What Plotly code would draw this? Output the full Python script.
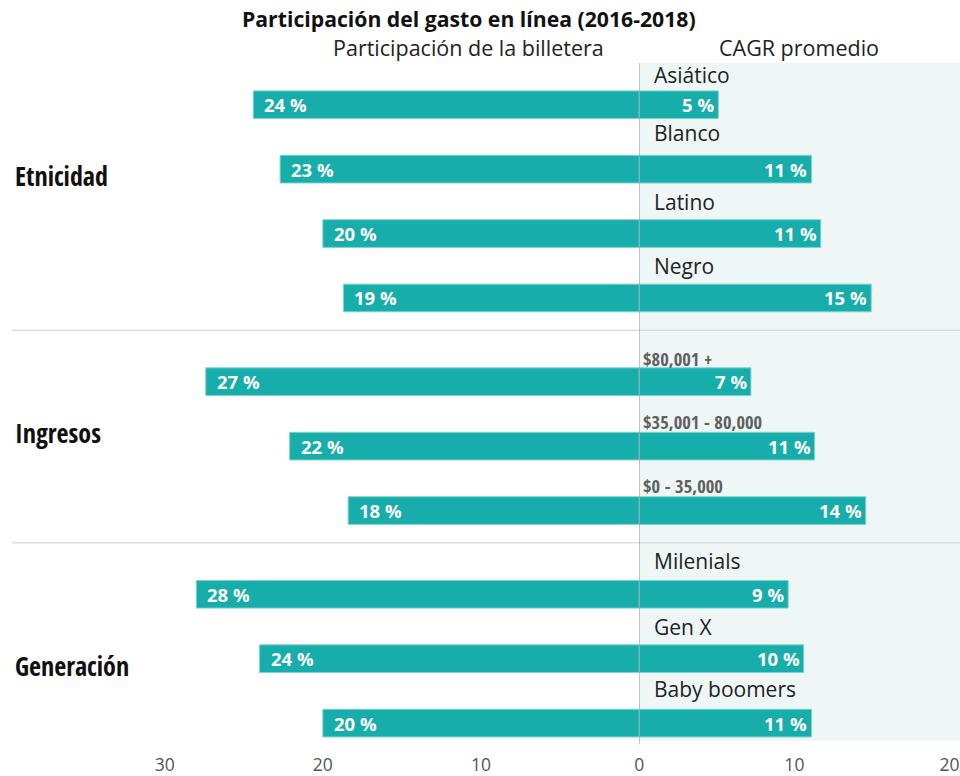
import plotly.graph_objects as go

# ---- data ----
groups = ["Etnicidad", "Ingresos", "Generación"]
categories = [
    ["Asiático", "Blanco", "Latino", "Negro"],
    ["$80,001 +", "$35,001 - 80,000", "$0 - 35,000"],
    ["Milenials", "Gen X", "Baby boomers"],
]
wallet_share = [
    [24.4, 22.7, 20.0, 18.7],
    [27.4, 22.1, 18.4],
    [28.0, 24.0, 20.0],
]
wallet_labels = [
    ["24 %", "23 %", "20 %", "19 %"],
    ["27 %", "22 %", "18 %"],
    ["28 %", "24 %", "20 %"],
]
cagr = [
    [5.1, 11.1, 11.7, 14.95],
    [7.2, 11.3, 14.6],
    [9.6, 10.6, 11.1],
]
cagr_labels = [
    ["5 %", "11 %", "11 %", "15 %"],
    ["7 %", "11 %", "14 %"],
    ["9 %", "10 %", "11 %"],
]
left_ticks = [-30, -20, -10]
left_tick_text = ["30", "20", "10"]
right_ticks = [0, 10, 20]
right_tick_text = ["0", "10", "20"]

TEAL = "#16ADAA"
FONT = "Open Sans"
COND = "Open Sans Condensed, DejaVu Sans Condensed, Open Sans"

W, H = 960, 776
ZERO_PX = 637.5
LEFT_PPU = 15.9      # pixels per unit, left panel
RIGHT_PPU = 15.6     # pixels per unit, right panel
SPLIT = ZERO_PX / W

# positions: one unit per row, extra gap between groups
ys, lv_all, rv_all, ll_all, rl_all, labels, is_income = [], [], [], [], [], [], []
sep_y = []
for g in range(len(groups)):
    for c, l, r, lt, rt in zip(categories[g], wallet_share[g], cagr[g],
                               wallet_labels[g], cagr_labels[g]):
        ys.append(len(ys) + 0.3 * g)
        lv_all.append(l); rv_all.append(r)
        ll_all.append(lt); rl_all.append(rt)
        labels.append(c); is_income.append(g == 1)
    if g < len(groups) - 1:
        sep_y.append(ys[-1] + 0.5)

fig = go.Figure()
fig.add_trace(go.Bar(
    y=ys, x=[-v for v in lv_all], orientation="h", width=0.43, xaxis="x", yaxis="y",
    marker=dict(color=TEAL, line=dict(color="#7fd3cf", width=1)),
    hoverinfo="skip", showlegend=False,
))
fig.add_trace(go.Bar(
    y=ys, x=rv_all, orientation="h", width=0.43, xaxis="x2", yaxis="y",
    marker=dict(color=TEAL, line=dict(color="#7fd3cf", width=1)),
    hoverinfo="skip", showlegend=False,
))

label_off = [0.46, 0.56, 0.49, 0.49, 0.36, 0.39, 0.39, 0.51, 0.49, 0.53]
ann = []
for y, l, r, lt, rt, lab, inc, off in zip(ys, lv_all, rv_all, ll_all, rl_all,
                                          labels, is_income, label_off):
    ann.append(dict(xref="x", x=-l, y=y, text=lt, xanchor="left", yanchor="middle",
                    xshift=9, showarrow=False,
                    font=dict(family=FONT, size=18.5, color="white", weight="bold")))
    ann.append(dict(xref="x2", x=r, y=y, text=rt, xanchor="right", yanchor="middle",
                    xshift=-2, showarrow=False,
                    font=dict(family=FONT, size=18.5, color="white", weight="bold")))
    if inc:
        ann.append(dict(xref="x2", x=0, y=y - off, text=lab, xanchor="left", yanchor="middle",
                        xshift=2, showarrow=False,
                        font=dict(family=COND, size=18.5, color="#606060", weight="bold")))
    else:
        ann.append(dict(xref="x2", x=0, y=y - off, text=lab, xanchor="left", yanchor="middle",
                        xshift=13, showarrow=False,
                        font=dict(family=FONT, size=21, color="#222222")))

group_y = [1.11, 5.09, 8.72]
for gname, gy in zip(groups, group_y):
    ann.append(dict(xref="paper", x=0.0, y=gy, text=gname, xanchor="left", yanchor="middle",
                    xshift=8, showarrow=False,
                    font=dict(family=COND, size=26, color="#111111", weight="bold")))

ann.append(dict(xref="paper", yref="paper", x=466.5 / W, y=1, yshift=45,
                text="Participación del gasto en línea (2016-2018)", showarrow=False,
                xanchor="center", yanchor="middle",
                font=dict(family=FONT, size=21.2, color="#111111", weight="bold")))
ann.append(dict(xref="paper", yref="paper", x=466 / W, y=1, yshift=16,
                text="Participación de la billetera", showarrow=False,
                xanchor="center", yanchor="middle",
                font=dict(family=FONT, size=21.5, color="#222222")))
ann.append(dict(xref="paper", yref="paper", x=798 / W, y=1, yshift=16,
                text="CAGR promedio", showarrow=False,
                xanchor="center", yanchor="middle",
                font=dict(family=FONT, size=21.5, color="#222222")))

shapes = [
    dict(type="rect", xref="paper", yref="paper", x0=SPLIT, x1=1, y0=0, y1=1,
         fillcolor="#EEF7F6", line=dict(width=0), layer="below"),
    dict(type="line", xref="x2", yref="paper", x0=0, x1=0, y0=-0.005, y1=1,
         line=dict(color="#999999", width=1), layer="above"),
]
for sy in sep_y:
    shapes.append(dict(type="line", xref="paper", yref="y", x0=7 / W, x1=1, y0=sy, y1=sy,
                       line=dict(color="#dddddd", width=1.5), layer="below"))

tickfont = dict(family=FONT, size=17.5, color="#555555")
common_x = dict(showgrid=False, zeroline=False, ticks="outside", ticklen=8,
                tickcolor="rgba(0,0,0,0)", tickfont=tickfont, fixedrange=True)

fig.update_layout(
    width=W, height=H,
    margin=dict(l=0, r=0, t=63, b=31),
    barmode="overlay",
    plot_bgcolor="rgba(0,0,0,0)", paper_bgcolor="white",
    font=dict(family=FONT),
    annotations=ann, shapes=shapes,
    xaxis=dict(domain=[0, SPLIT], range=[-ZERO_PX / LEFT_PPU, 0],
               tickvals=left_ticks, ticktext=left_tick_text, **common_x),
    xaxis2=dict(domain=[SPLIT, 1], range=[0, (W - ZERO_PX) / RIGHT_PPU], anchor="y",
                tickvals=right_ticks, ticktext=right_tick_text, **common_x),
    yaxis=dict(range=[9.878, -0.648], showgrid=False, zeroline=False, showticklabels=False,
               fixedrange=True),
)

post = """
var st = document.createElement('style');
st.textContent = 'html,body{margin:0 !important;padding:0 !important;width:960px;height:776px;overflow:hidden !important;}'
  + ' text[style*="Condensed"]{font-stretch:75% !important;}'
  + ' .main-svg{overflow:hidden !important;}';
document.head.appendChild(st);
var gd = document.getElementById('{plot_id}');
Plotly.relayout(gd, {});
"""
fig.write_html("out.html", post_script=post, config={"displayModeBar": False})
